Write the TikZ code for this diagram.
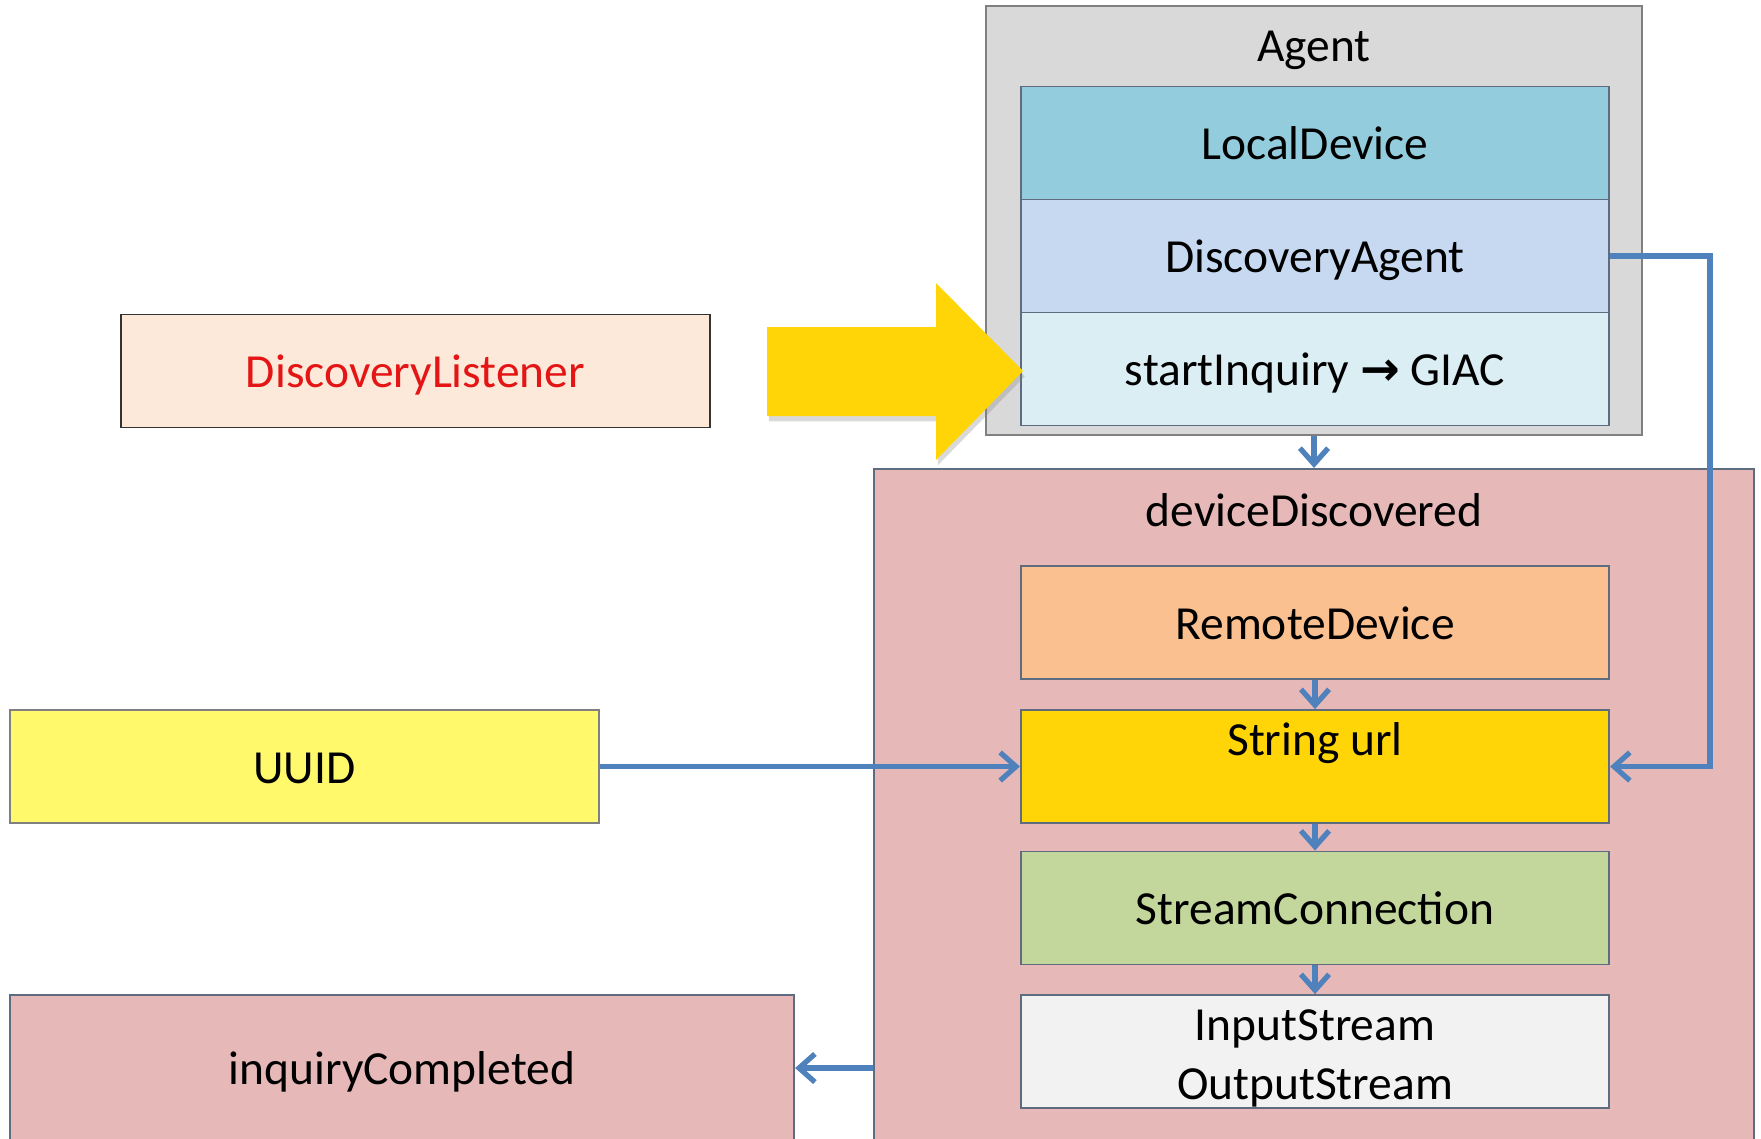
\documentclass[tikz,border=0pt]{standalone}
\usepackage{fontspec}
\setmainfont{Carlito}
\newfontfamily\arrowfont{DejaVu Sans}
\usetikzlibrary{arrows.meta,shadows}

\definecolor{agentgray}{HTML}{D9D9D9}
\definecolor{localblue}{HTML}{93CDDD}
\definecolor{discblue}{HTML}{C6D9F1}
\definecolor{inqblue}{HTML}{DBEEF4}
\definecolor{listenerpink}{HTML}{FDE9D9}
\definecolor{listenerred}{HTML}{E41515}
\definecolor{eventrose}{HTML}{E6B9B8}
\definecolor{remoteorange}{HTML}{FAC090}
\definecolor{urlyellow}{HTML}{FFD508}
\definecolor{streamgreen}{HTML}{C3D69B}
\definecolor{iogray}{HTML}{F2F2F2}
\definecolor{uuidyellow}{HTML}{FFF96B}
\definecolor{connblue}{HTML}{4F81BD}
\definecolor{boxline}{HTML}{5F6B7E}

\begin{document}
\begin{tikzpicture}[x=0.01cm,y=-0.01cm,
  box/.style={rectangle,draw=boxline,line width=0.5pt,minimum width=5.88cm,minimum height=1.13cm,inner sep=0pt,align=center,text height=0.95em,text depth=0pt,font=\fontsize{13.5}{16.7}\selectfont},
  title/.style={inner sep=0pt,text height=0.95em,text depth=0pt,font=\fontsize{13.5}{16.7}\selectfont},
  conn/.style={-{Straight Barb[length=4.5pt,width=8pt]},draw=connblue,line width=1.5pt}]
\clip (0,0) rectangle (1761,1138);

\node[box,fill=agentgray,draw=gray,minimum width=6.56cm,minimum height=4.29cm] (agent) at (1314,220.5){};
\node[title] (agenttitle) at (1314,45){Agent};
\node[box,fill=localblue] (localdev) at (1315,143){LocalDevice};
\node[box,fill=discblue] (discagent) at (1315,256){DiscoveryAgent};
\node[box,fill=inqblue] (startinq) at (1315,369){startInquiry {\arrowfont\bfseries →} GIAC};

\node[box,fill=eventrose,minimum width=8.80cm,minimum height=6.81cm] (ddisc) at (1314,809.5){};
\node[title] (ddisctitle) at (1314,510){deviceDiscovered};
\node[box,fill=remoteorange] (remote) at (1315,622.5){RemoteDevice};
\node[box,fill=urlyellow,text height=27pt] (url) at (1315,766.5){String url\\~};
\node[box,fill=streamgreen] (streamconn) at (1315,908){StreamConnection};
\node[box,fill=iogray,text height=27pt] (iostream) at (1315,1051.5){InputStream\\OutputStream};

\node[box,fill=listenerpink,draw=black!80,minimum width=5.89cm,text=listenerred] (dlistener) at (415.5,371){DiscoveryListener};
\node[box,fill=uuidyellow,draw=gray,minimum width=5.89cm] (uuid) at (304.5,766.5){UUID};
\node[box,fill=eventrose,minimum width=7.84cm,minimum height=1.46cm] (inqcomp) at (402,1068){inquiryCompleted};

%%%%%%%%
\fill[urlyellow,drop shadow={shadow xshift=0.5pt,shadow yshift=-1.5pt,opacity=0.3}] (767,327) -- (936,327) -- (936,283) -- (1023,371) -- (936,460) -- (936,416) -- (767,416) -- cycle;

%%%%%%%%
\path (agent.south) edge[conn] (ddisc.north);
\path (remote.south) edge[conn] (url.north);
\path (url.south) edge[conn] (streamconn.north);
\path (streamconn.south) edge[conn] (iostream.north);
\path (uuid.east) edge[conn] (url.west);
\draw [conn] (discagent.east) -- ++(100,0) |- (url.east);
\path (ddisc.west |- inqcomp.east) edge[conn] (inqcomp.east);

\end{tikzpicture}
\end{document}
